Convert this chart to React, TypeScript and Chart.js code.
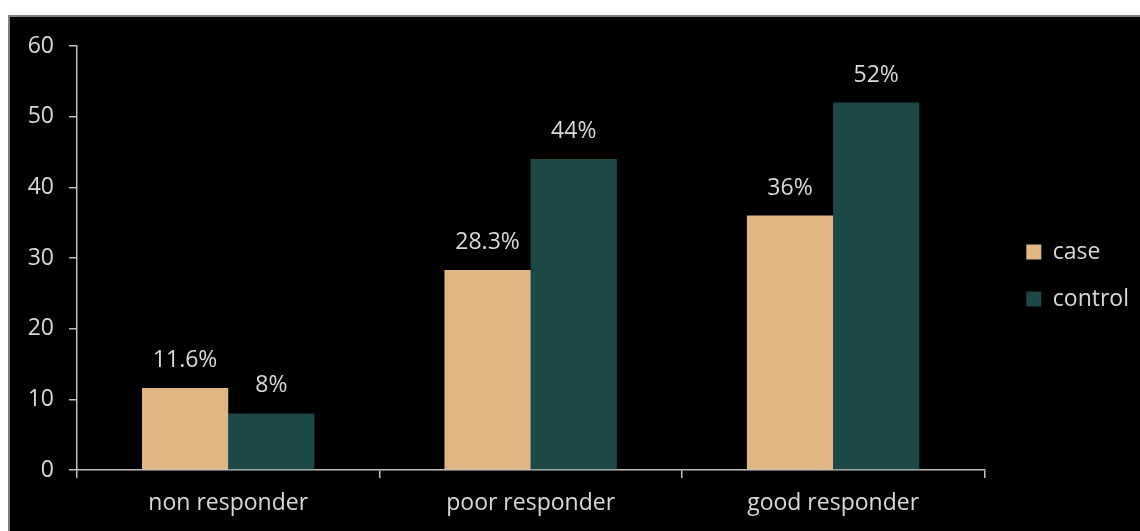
import React, { useEffect, useRef } from "react";
import { Chart, registerables } from "chart.js";

Chart.register(...registerables);

const categories = ["non responder", "poor responder", "good responder"];
const caseValues = [11.6, 28.3, 36];
const controlValues = [8, 44, 52];
const caseLabels = ["11.6%", "28.3%", "36%"];
const controlLabels = ["8%", "44%", "52%"];
const seriesNames = ["case", "control"];
const yTicks = [0, 10, 20, 30, 40, 50, 60];

const FONT = "'Open Sans', sans-serif";
const FS = 23;
const TEXT = "#d9d9d9";
const AXIS = "#bfbfbf";

const valueLabelPlugin = {
  id: "valueLabels",
  afterDatasetsDraw(chart: any) {
    const ctx = chart.ctx;
    const labels = [caseLabels, controlLabels];
    ctx.save();
    ctx.font = `${FS}px ${FONT}`;
    ctx.fillStyle = TEXT;
    ctx.textAlign = "center";
    ctx.textBaseline = "alphabetic";
    chart.data.datasets.forEach((_: any, di: number) => {
      const meta = chart.getDatasetMeta(di);
      meta.data.forEach((el: any, i: number) => {
        ctx.fillText(labels[di][i], el.x, el.y - 21);
      });
    });
    ctx.restore();
  },
};

export default function App() {
  const ref = useRef<HTMLCanvasElement>(null);
  useEffect(() => {
    document.body.style.overflow = "hidden";
    document.documentElement.style.overflow = "hidden";
    const chart = new Chart(ref.current!, {
      type: "bar",
      data: {
        labels: categories,
        datasets: [
          {
            label: seriesNames[0],
            data: caseValues,
            backgroundColor: "#e0b784",
            borderWidth: 0,
          },
          {
            label: seriesNames[1],
            data: controlValues,
            backgroundColor: "#1c4848",
            borderWidth: 0,
          },
        ],
      },
      options: {
        responsive: false,
        animation: false,
        layout: { padding: { top: 29, left: 0, right: 1, bottom: 0 } },
        datasets: {
          bar: { categoryPercentage: 0.57, barPercentage: 1 },
        },
        plugins: {
          tooltip: { enabled: false },
          legend: {
            position: "right",
            fullSize: false,
            title: {
              display: true,
              text: " ",
              font: { size: 10 },
              padding: { top: 23, bottom: 0 },
            },
            labels: {
              color: TEXT,
              font: { family: FONT, size: FS },
              boxWidth: 15,
              boxHeight: 15,
              padding: 24,
            },
          },
        },
        scales: {
          x: {
            grid: {
              display: true,
              offset: true,
              drawOnChartArea: false,
              drawTicks: true,
              tickLength: 8,
              color: AXIS,
              lineWidth: 1.5,
            },
            border: { display: true, color: AXIS, width: 1.5 },
            ticks: {
              color: TEXT,
              font: { family: FONT, size: FS },
              padding: 12,
            },
            afterFit: (s: any) => {
              s.height = 61;
            },
          },
          y: {
            min: 0,
            max: 60,
            afterBuildTicks: (s: any) => {
              s.ticks = yTicks.map((v) => ({ value: v }));
            },
            grid: {
              display: true,
              drawOnChartArea: false,
              drawTicks: true,
              tickLength: 8,
              color: AXIS,
              lineWidth: 1.5,
            },
            border: { display: true, color: AXIS, width: 1.5 },
            ticks: {
              color: TEXT,
              font: { family: FONT, size: FS },
              padding: 15,
            },
            afterFit: (s: any) => {
              s.width = 67;
            },
          },
          spacer: {
            type: "linear",
            position: "right",
            display: true,
            grid: { display: false },
            border: { display: false },
            ticks: { display: false },
            afterFit: (s: any) => {
              s.width = 18;
            },
          },
        },
      },
      plugins: [valueLabelPlugin],
    } as any);
    return () => chart.destroy();
  }, []);

  return (
    <div
      style={{
        position: "absolute",
        left: 8,
        top: 15,
        width: 1132,
        height: 516,
        boxSizing: "border-box",
        borderTop: "2px solid #808080",
        borderLeft: "2px solid #808080",
        background: "#000",
      }}
    >
      <canvas ref={ref} width={1130} height={514} style={{ display: "block" }} />
    </div>
  );
}
